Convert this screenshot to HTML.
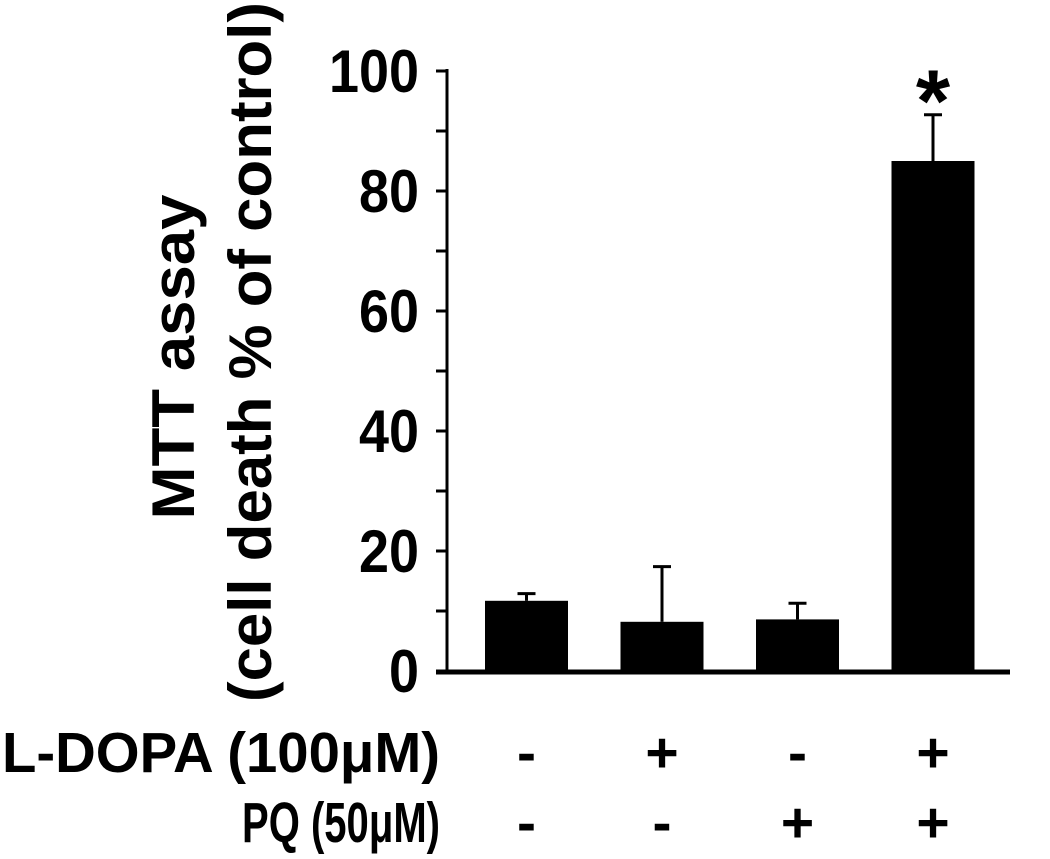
<!DOCTYPE html>
<html><head><meta charset="utf-8"><style>
body{margin:0;background:#fff;}
svg text{font-family:"Liberation Sans",sans-serif;font-weight:bold;fill:#000;}
</style></head><body>
<svg id="chart" width="1050" height="854" xmlns="http://www.w3.org/2000/svg"></svg>
<script>
const categories = ["ctrl","ldopa","pq","ldopa-pq"];
const values = [11.7, 8.2, 8.6, 85];
const errors = [1.2, 9.2, 2.7, 7.7];
const yTicks = [0,20,40,60,80,100];
const ldopaRow = ["-","+","-","+"];
const pqRow = ["-","-","+","+"];
const NS="http://www.w3.org/2000/svg";
const svg=document.getElementById('chart');
const y0=671, ppu=6.0;
function y(v){return y0-v*ppu;}
const barLeft=485, barW=83, step=135.5;
function xc(i){return barLeft+i*step+barW/2;}
function mk(t,a){const e=document.createElementNS(NS,t);for(const k in a)e.setAttribute(k,a[k]);svg.appendChild(e);return e;}
let e;
e=mk('line',{x1:447,y1:y(100)-2,x2:447,y2:y0+3,stroke:'#000','stroke-width':3});


e=mk('line',{x1:436,y1:y0+1,x2:1010,y2:y0+1,stroke:'#000','stroke-width':5});


for(let v=0;v<=100;v+=10){
  e=mk('line',{x1:436,y1:y(v),x2:447,y2:y(v),stroke:'#000','stroke-width':3});
  
  
}
yTicks.forEach(v=>{
  const s=String(v);
  e=mk('text',{x:419,y:y(v)+21,'text-anchor':'end','font-size':60,textLength:s.length*30,lengthAdjust:'spacingAndGlyphs'});
  e.textContent=s;
  
  
});
categories.forEach((c,i)=>{
  const cx=xc(i);
  const top=y(values[i]), et=y(values[i]+errors[i]);
  e=mk('line',{x1:cx,y1:top,x2:cx,y2:et,stroke:'#000','stroke-width':3});
  
  
  e=mk('line',{x1:cx-9,y1:et,x2:cx+9,y2:et,stroke:'#000','stroke-width':3});
  
  
  e=mk('rect',{x:barLeft+i*step,y:top,width:barW,height:y0-top,fill:'#000'});
  
  
  e=mk('text',{x:cx,y:772,'text-anchor':'middle','font-size':57});
  e.textContent=ldopaRow[i];
  
  
  e=mk('text',{x:cx,y:842,'text-anchor':'middle','font-size':57});
  e.textContent=pqRow[i];
  
  
});
e=mk('text',{x:xc(3),y:y(values[3]+errors[3])+16,'text-anchor':'middle','font-size':88});
e.textContent='*';


e=mk('text',{x:440,y:772,'text-anchor':'end','font-size':57,textLength:438,lengthAdjust:'spacingAndGlyphs'});
e.textContent='L-DOPA (100\u03BCM)';


e=mk('text',{x:440,y:842,'text-anchor':'end','font-size':57,textLength:198,lengthAdjust:'spacingAndGlyphs'});
e.textContent='PQ (50\u03BCM)';


e=mk('text',{x:0,y:0,'text-anchor':'middle','font-size':60,textLength:325,lengthAdjust:'spacingAndGlyphs',transform:'translate(194,357) rotate(-90)'});
e.textContent='MTT assay';


e=mk('text',{x:0,y:0,'text-anchor':'middle','font-size':60,textLength:700,lengthAdjust:'spacingAndGlyphs',transform:'translate(271,352) rotate(-90)'});
e.textContent='(cell death % of control)';


</script>
</body></html>
